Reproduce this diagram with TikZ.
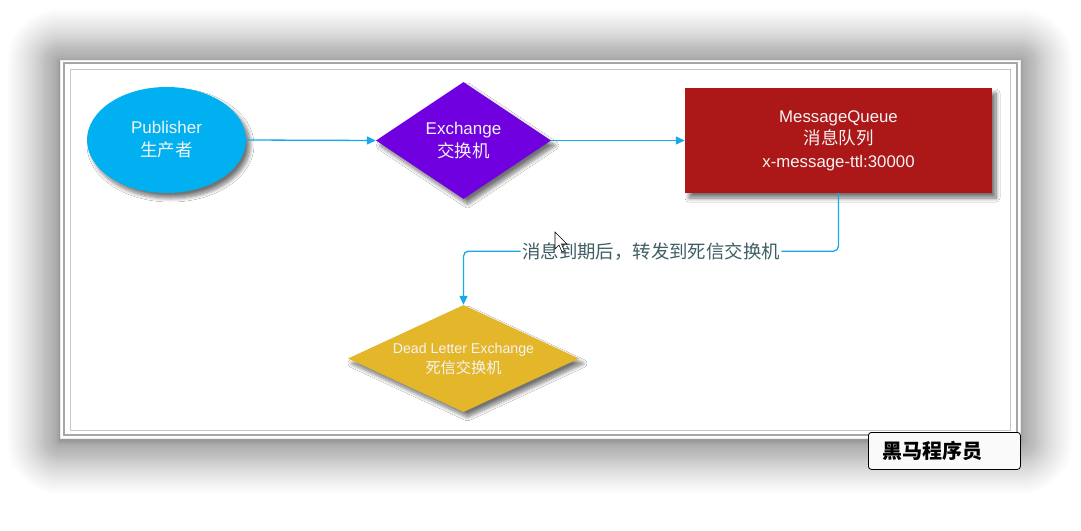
\documentclass[tikz,border=0pt]{standalone}
\usepackage{fontspec}
\setmainfont{Liberation Sans}
\newfontfamily\cjk{Noto Sans CJK SC}
\usetikzlibrary{shapes.geometric,arrows.meta,shadows.blur}

\definecolor{pubblue}{HTML}{00B0F0}
\definecolor{exviolet}{HTML}{7000E0}
\definecolor{queuered}{HTML}{AC1717}
\definecolor{dlxgold}{HTML}{E4B62A}
\definecolor{flowblue}{HTML}{17A9E8}
\definecolor{labelgrey}{HTML}{3F5E64}
\definecolor{nodetext}{HTML}{F4F4F4}

\newcommand\hanzi[1]{{\cjk #1}}

\tikzset{
  softshadow/.style={blur shadow={shadow xshift=4pt, shadow yshift=-5pt,
      shadow blur radius=4pt, shadow opacity=55, shadow blur steps=10}},
  shapetext/.style={text=nodetext, align=center, inner sep=0pt,
      font=\fontsize{17}{23}\selectfont, softshadow},
  flow/.style={draw=flowblue, line width=1.3pt,
      -{Triangle[length=9pt,width=8pt]}},
}

\begin{document}
\begin{tikzpicture}[x=1pt, y=-1pt]
\useasboundingbox (0,0) rectangle (1081,530);

% soft shadow under the panel: translucent layers, denser near the edge
\foreach \g in {1,...,70} {
  \pgfmathsetmacro\ex{1+52*(\g/70)^2.2}
  \fill[black, opacity=0.0065, rounded corners=\ex]
    (60-\ex, 62-\ex) rectangle (1020+\ex, 441+\ex);
}

% panel
\path[fill=white, draw=black!8, line width=0.6pt] (60,60) rectangle (1020,438);
\draw[black!35, line width=1.2pt] (64,63) rectangle (1017,435);
\draw[black!22, line width=0.9pt] (70,69) rectangle (1010,430);

% shapes
\node[shapetext, ellipse, fill=pubblue, minimum width=159pt, minimum height=106pt]
  (pub) at (166.5,140) {Publisher\\\hanzi{\fontsize{17.5}{23}\selectfont 生产者}};

\node[shapetext, diamond, aspect=1.5, fill=exviolet, minimum width=175pt, minimum height=117pt]
  (ex) at (463.5,140.5) {Exchange\\\hanzi{\fontsize{17.5}{23}\selectfont 交换机}};

\node[shapetext, rectangle, fill=queuered, minimum width=307pt, minimum height=105pt,
      font=\fontsize{16.8}{22.5}\selectfont]
  (mq) at (838.5,140.5) {MessageQueue\\\hanzi{\fontsize{17.5}{22.5}\selectfont 消息队列}\\x-message-ttl:30000};

\node[shapetext, diamond, aspect=2.16, fill=dlxgold, minimum width=231pt, minimum height=107pt,
      font=\fontsize{14.2}{20}\selectfont]
  (dlx) at (463.5,358.5) {Dead Letter Exchange\\\hanzi{\fontsize{15.2}{20}\selectfont 死信交换机}};

% connectors
\draw[flow] (pub.east) -- (ex.west);
\draw[flow] (ex.east) -- (mq.west);
\draw[flow, rounded corners=5pt] (mq.south) -- ++(0,58) -| (dlx.north)
  node[pos=0.25, fill=white, inner sep=1.5pt, text=labelgrey,
       font=\cjk\fontsize{18.4}{20}\selectfont] (lbl) {消息到期后，转发到死信交换机};

% mouse pointer
\draw[fill=white, draw=black, line width=0.6pt, line join=miter]
  (555,232) -- (555,249) -- (559,245) -- (562,252) -- (564.5,251)
  -- (561.5,244) -- (567,244) -- cycle;

% badge
\node[draw=black, line width=0.8pt, fill=black!2, rounded corners=3pt,
      minimum width=152pt, minimum height=37pt, inner sep=0pt,
      anchor=north west] (badge) at (868,432) {};
\node[anchor=west, inner sep=0pt, font=\cjk\bfseries\fontsize{20}{20}\selectfont]
  (badgetext) at ([xshift=14pt]badge.west) {黑马程序员};
\end{tikzpicture}
\end{document}
